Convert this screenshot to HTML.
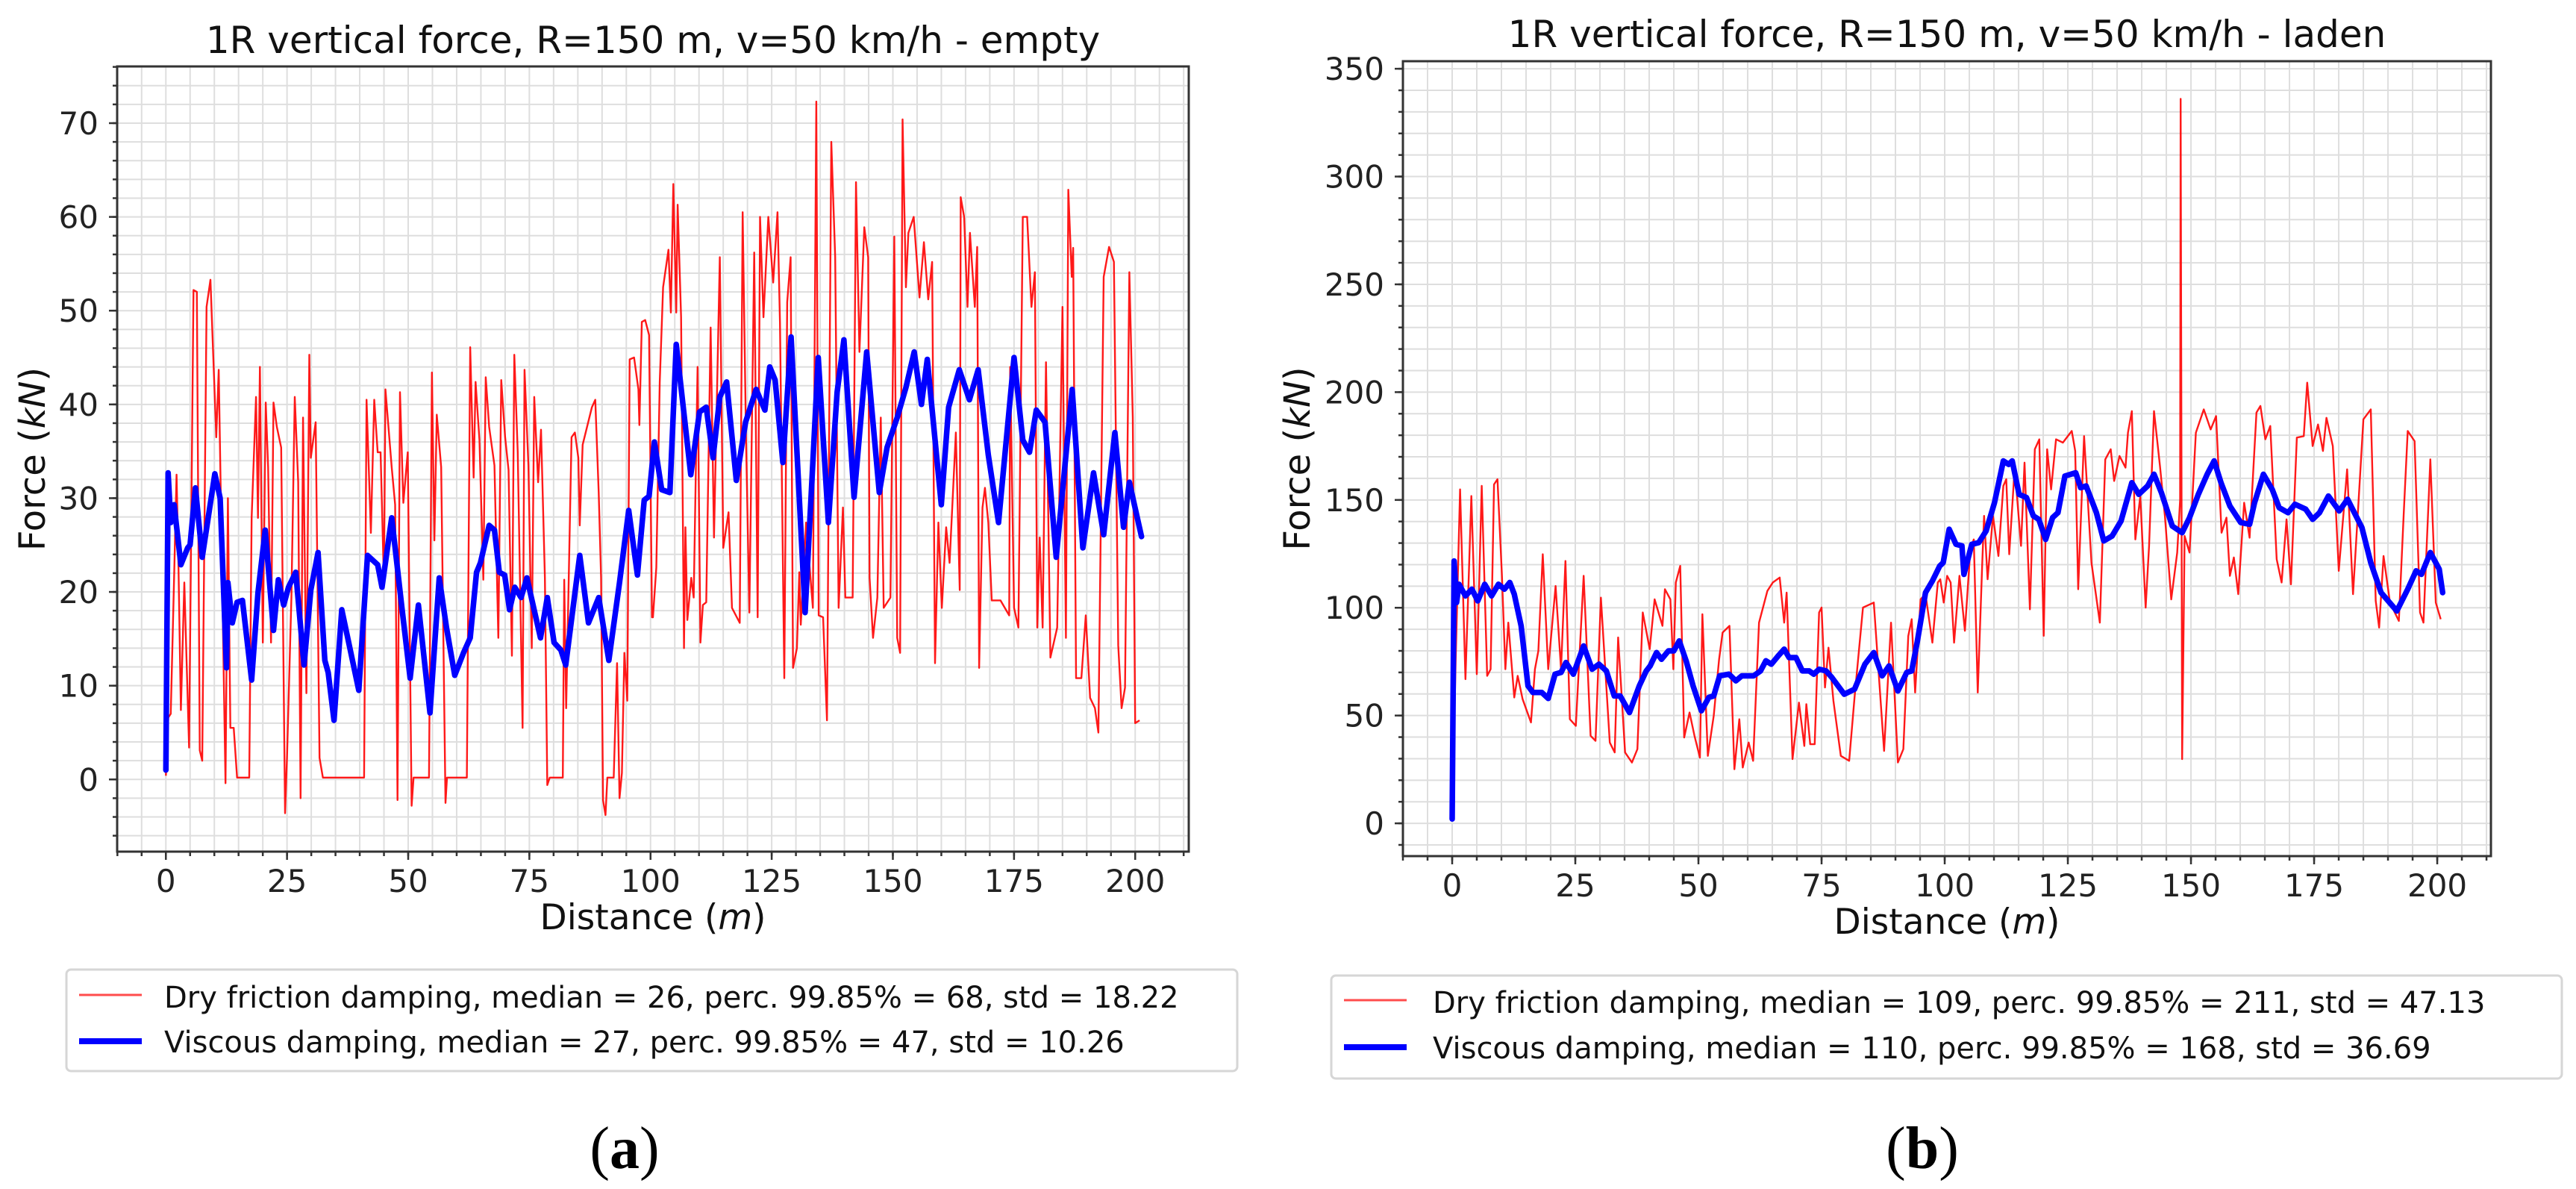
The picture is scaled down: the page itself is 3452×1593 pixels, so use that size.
<!DOCTYPE html>
<html><head><meta charset="utf-8">
<style>
html,body{margin:0;padding:0;background:#fff;}
svg{display:block;font-family:"DejaVu Sans","Liberation Sans",sans-serif;}
</style></head>
<body>
<svg id="fig" width="3452" height="1593" viewBox="0 0 3452 1593" xmlns="http://www.w3.org/2000/svg">
<rect width="3452" height="1593" fill="#fff"/>
</svg>
<script>
// ---- Panel (a) data: empty ----
const aRedX = [0,0.5,1,1.7,2.2,2.6,3.1,3.8,4.8,5.7,6.4,7,7.5,8.4,9.2,10.4,10.9,12.3,12.8,13.3,14,14.7,17.2,17.7,18.6,19,19.4,20,20.6,21.1,21.7,22.2,22.9,23.8,24.6,25,25.9,26.6,27.3,27.8,28.3,29,29.6,29.9,30.9,31.7,32.4,40.9,41.4,42.3,43,43.7,44.3,45,45.3,46.6,47.3,47.8,48.3,49,49.9,50.7,51.1,54.3,54.9,55.4,55.9,56.8,57.7,58,62.1,62.8,63.5,63.9,64.7,65.5,66,66.7,67.8,68.6,69.2,70,70.7,71.4,71.9,72.6,73.6,74,74.8,75.5,76,76.8,77.4,78.2,78.7,79.2,81.9,82.2,82.6,83.7,84.4,85.1,85.4,86,87.9,88.6,89.3,89.8,90.2,90.7,91.1,92.4,93.1,93.6,94.1,94.6,95.2,95.7,96.6,97.5,97.7,98.2,98.9,99.7,100.3,
100.5,101.2,101.9,102.6,103.7,104.2,104.7,105.3,105.6,106.3,106.9,107.2,107.6,108.4,108.9,109.7,110.3,110.8,111.5,112.4,113.1,114.3,115,116.1,116.8,118.4,119,119.7,120.4,121.4,122.1,122.6,123.3,124.3,125.3,126.2,126.7,127.6,128.2,128.9,129.4,130.2,130.7,131,132.1,133.5,134.2,134.7,135.6,136.4,137.3,138.1,138.8,139.7,140.2,141.7,142.4,143.1,144.1,144.9,145.2,145.9,146.8,147.5,148.1,149.5,150.3,150.9,151.5,152,152.7,153.2,154.3,155.5,156.4,157.3,158.1,158.7,159.4,160.1,161,161.7,163,163.8,164,164.7,165.4,165.9,166.9,167.4,167.8,168.5,169,169.7,170.4,172.2,174,174.2,175,175.9,176.8,177.7,178.6,179.3,179.8,180.3,180.9,181.6,182.5,183.9,185,185.7,186.2,186.9,187.2,187.8,188.9,189.8,190.7,191.7,192.4,193.5,194.6,195.6,196.5,197.2,197.9,198.8,199.5,200,200.9];
const aRedF = [0.4,6.6,7,21.5,32.5,22.6,7.4,21,3.4,52.2,52,3.1,2,50.4,53.3,36.5,43.7,-0.4,30,5.5,5.5,0.2,0.2,27.9,40.8,27.9,44,14.6,40.2,33.3,14.6,40.2,37.6,35.4,-3.6,2.3,19.4,40.8,31.7,-2,38.6,9.2,45.3,34.3,38.1,2.3,0.2,0.2,40.5,26.3,40.5,34.9,34.9,21,41.6,33.3,29.3,-2.2,41.3,29.5,34.9,-2.8,0.2,0.2,43.4,25.5,38.9,33.3,-2.5,0.2,0.2,46.1,32.2,42.4,36.2,21.3,42.9,37.6,33.5,15.1,42.6,36.5,33,13.2,45.3,34.9,5.5,43.7,33.5,14,40.8,31.7,37.3,21.5,-0.6,0.2,0.2,21.3,7.6,36.5,37,34.3,27.1,35.7,39.7,40.5,30.6,21.5,-2.2,-3.8,0.2,0.2,12.4,-2,0.7,13.5,8.4,44.8,45,41.6,37.8,48.8,49,47.4,17.3,
17.3,22.6,42.4,52.5,56.5,49.8,63.5,49.8,61.3,49.3,14,26.9,17,21.5,19.4,44,14.6,18.6,18.9,48.2,25.8,55.7,24.7,28.5,18.3,16.7,60.5,36.5,17.8,56.2,17.3,60,49.3,60,53,60.5,48.8,10.8,50.9,55.7,11.9,14,22.1,16.5,27.4,18.3,72.3,17.5,17.3,6.3,68,55.7,18.3,29,19.4,19.4,63.7,45.6,58.9,55.7,21.5,15.1,19.4,38.6,18.3,19.4,57.9,15.1,13.5,70.4,52.5,58.3,60,51.4,57.3,51.2,55.2,12.4,27.4,18.3,26.9,23.1,37,20.2,62.1,60,50.4,58.3,50.4,56.8,11.9,29,31.1,27.4,19.1,19.1,17.5,44,18.3,16.2,60,60,50.4,54.1,16.2,25.8,16.2,44.5,13,16.2,50.4,15.1,62.9,53.6,56.7,10.8,10.8,17.5,8.7,7.6,5,53.6,56.8,55.2,14.3,7.6,9.8,54.1,38.6,6,6.3];
const aBlueX = [0,0.46,1,1.7,3.1,4.5,5,6.1,7.5,10.1,11.2,12.5,12.8,13.7,14.7,15.8,17.7,19,20.5,22.2,23.2,24.3,25.3,26.8,28.5,29.9,31.4,32.8,33.5,34.7,36.3,39.8,41.6,43.7,44.6,46.6,48.7,50.4,52.1,54.5,56.4,57.9,59.6,61.4,62.8,64.1,64.9,66.7,67.8,68.8,69.9,70.9,72,73.3,74.5,75.9,77.3,78.7,80.1,81.5,82.5,85.4,87.2,89.3,91.4,93.6,95.5,97.3,98.7,99.7,100.8,102.3,104,105.3,108.3,110.1,111.5,112.9,114.3,115.7,117.7,119.6,121.8,123.6,124.6,125.7,127.3,129,131.9,134.6,136.7,138.5,139.9,142,144.6,147.2,148.8,150.9,152.7,154.4,155.9,157.1,160,161.5,163.7,165.8,167.6,169.7,171.8,175,176.8,178.2,179.6,181.4,183.7,187,189.2,191.4,193.5,195.8,197.6,198.8,201.3];
const aBlueF = [1,32.7,27.4,29.3,22.9,24.7,25,31.1,23.7,32.6,30,11.9,21,16.7,18.9,19.1,10.6,19.9,26.6,15.9,21.3,18.6,20.5,22.1,12.2,20.2,24.2,12.7,11.4,6.3,18.1,9.5,23.9,22.9,20.5,27.9,18.3,10.8,18.6,7.1,21.5,16.2,11.1,13.5,15.1,22.1,23.1,27.1,26.6,22.1,21.8,18.1,20.5,19.4,21.5,18.3,15.1,19.4,14.6,13.8,12.2,23.9,16.7,19.4,12.7,21,28.7,21.8,29.8,30.2,36,30.9,30.6,46.4,32.5,39.2,39.7,34.3,40.8,42.4,31.9,38.1,41.6,39.4,44,42.6,33.8,47.2,17.8,45,27.4,41.3,46.9,30.1,45.6,30.6,35.4,38.6,41.8,45.6,40,44.8,29.3,39.7,43.7,40.5,43.7,34.6,27.4,45,36.2,34.9,39.4,38.1,23.7,41.6,24.7,32.7,26.1,37,26.9,31.7,25.9];
const aXTicks = [0,25,50,75,100,125,150,175,200];
const aYTicks = [0,10,20,30,40,50,60,70];

// ---- Panel (b) data: laden ----
const bRedX = [0,0.7,1.6,2.7,3.9,5,6,7.1,7.8,8.5,9.2,10.1,10.8,11.4,12.6,13.3,14.3,16,16.8,17.5,18.4,19.5,21,22.1,23,23.9,25.1,26.7,28.1,29.1,30.2,32,33,33.7,35.1,36.5,37.6,38.7,40.1,41.1,42.7,43.2,44.3,44.9,45.4,46.3,47.1,48.2,49.2,50.3,50.8,51.9,53.1,54.2,54.9,56.3,57.3,58.3,59,60.2,61.1,62.3,64,65.1,66.5,67.4,67.9,69.1,70.4,71.5,71.9,72.7,73.6,74.5,75,75.7,76.4,77.4,78.9,80.6,81.7,83.4,85.6,87.7,89.1,90.5,91.6,92.6,93.3,94,95.1,96.1,97.5,98.6,99.1,99.8,100.5,101.2,101.9,103,104.1,105.2,105.9,106.7,107.6,108,108.7,109.8,110.9,111.9,112.5,113.1,114.2,115.5,116.2,117.3,118.3,119.2,120.1,120.8,121.6,122.6,124,125.8,126.5,127.1,128.3,129.8,131.5,132.6,133.7,134.4,135.5,136.7,137.2,138,138.7,139.7,140.8,141.5,142.5,143.7,144.7,146,147.2,147.8,147.9,148.2,148.7,149.7,151,152.6,154,155.1,156.2,157.2,157.9,158.7,159.6,160.8,161.9,163.3,164.1,165.1,166.1,167.4,168.4,169.4,170.3,171.5,172.9,173.6,174.7,175.8,176.8,177.5,178.8,180,181.7,182.9,184,185,186.5,187.5,188.2,189.1,190.4,192.2,193.2,194,195.4,196.5,197.2,198.6,199.7,200.7];
const bRedF = [2,74.6,154.9,66.9,151.8,69.2,156.5,68.4,71.5,157.2,159.6,114.8,71.5,93.1,58.4,68.4,57.6,46.8,71.5,80,124.8,71.5,110.1,71.5,121.7,48.3,45.2,114.8,40.6,38.3,104.7,37.5,32.9,86.2,32.9,28.2,34.4,97.8,80.8,103.9,91.6,108.6,103.9,71.5,111.7,119.4,39.8,51.4,40.6,30.5,97,31.3,49.9,76.1,88.5,91.6,25.1,48.3,25.9,37.5,29,93.1,107.8,111.7,114,93.1,107,29.8,56,35.9,55.3,36.7,36.7,97.8,100.1,63,81.5,56.8,31.3,29,58.4,100.1,102.4,33.6,93.1,28.2,34.4,86.9,94.7,60.7,103.9,106.3,83.8,111.7,113.2,102.4,114.8,111.7,83.8,114.8,89.3,127.1,131.7,60.7,119.4,142.6,113.2,142.6,124,156.5,159.6,124.8,165,128.7,167.3,99.3,173.5,178.1,87,173.5,154.9,178.1,176.6,182,172.7,108.6,179.6,120.9,93.1,168.8,173.5,158.8,170.4,165,181.2,191.2,131.7,151.8,100.1,128.7,191.2,165.7,142.6,103.9,125.6,150,336,29.8,133.3,125.6,181.2,192,182.7,188.9,134.8,141.8,114.8,123.3,106.3,148.7,132.5,190.5,193.6,178.1,184.3,122.5,111.7,141,110.9,178.9,179.6,204.4,175,185,172.7,188.1,175,117.1,164.2,106.3,148.7,187.4,192,103.2,90.8,124,102.4,93.9,144.1,182,177.3,97.8,93.1,168.8,102.4,94.7];
const bBlueX = [0,0.4,0.9,1.4,2.7,4,5.2,6.6,8,9.4,10.6,11.7,12.6,14,15.4,16.4,18.2,19.5,20.9,22.1,23.1,24.6,26.7,28.4,29.8,31.3,32.9,34.1,36,38,39.4,40.2,41.5,42.5,43.9,45,46.1,47.5,48.9,50.6,52.1,53.1,54.3,56.2,57.6,58.8,61.2,62.6,63.7,64.8,66.2,67.4,68.4,69.8,71.1,72.5,73.4,74.5,75.9,77.1,79.6,81.7,83.8,85.6,87.3,88.7,90.5,92.3,93.3,94.4,96.1,97.5,99,99.7,100.9,102.3,103.5,103.9,105.5,106.9,108.4,110.1,111.9,113,113.7,115.1,116.6,118,119.1,120.5,121.9,123,124.4,126.6,127.6,128.7,130.8,132.3,134,135.8,138,139.4,141.2,142.5,144,146.2,148.2,149.7,151.5,153.3,154.7,156.1,157.9,160.1,161.9,162.9,164.7,166.5,167.9,169.7,171.1,173.3,174.7,176.1,177.9,180.1,181.8,184.7,186.5,188.6,191.8,194,195.7,196.8,198.6,200.4,201.1];
const bBlueF = [2,121.7,102.4,110.9,105.5,108.6,103.2,110.9,105.5,110.9,108.6,111.7,106.3,91.6,63.8,60.7,60.7,57.9,69.2,70,74.6,69.2,82.3,71.5,73.8,70.7,59.1,59.1,51.4,63.8,70.7,73,79.2,76.1,80,80,84.6,75.4,63.8,52.2,58.4,59.1,68.4,69.2,66.1,68.4,68.4,70.7,75.4,73.8,77.7,80.8,76.9,76.9,70.7,70.7,69.2,71.5,70.7,67.6,59.9,62.2,73.8,79.2,68.4,73,61.4,70,70.7,83.9,107,112.4,119.4,120.9,136.4,129.4,128.7,115.5,129.4,130.2,135.6,148.7,168.1,166.5,168.1,152.6,151.1,142.6,141,131.7,141.8,144.1,161.1,162.6,155.7,156.5,144.1,131,133.3,140.2,158,152.6,156.5,161.9,153.4,137.9,134.8,141.8,152.6,161.9,168.1,158,147.2,139.5,138.7,148.7,161.9,154.9,146.4,144.1,148,145.7,141,144.1,151.8,144.9,150.3,137.2,120.9,107,98.5,108.6,117.1,115.5,125.6,117.9,107];
const bXTicks = [0,25,50,75,100,125,150,175,200];
const bYTicks = [0,50,100,150,200,250,300,350];

const NS = "http://www.w3.org/2000/svg";
const svg = document.getElementById('fig');
function mk(tag, attrs, parent) {
  const e = document.createElementNS(NS, tag);
  for (const k in attrs) e.setAttribute(k, attrs[k]);
  (parent || svg).appendChild(e);
  return e;
}

function panel(cfg) {
  const g = mk('g', {});
  
  
  const {L, R, T, B, x0, x1, y0, y1} = cfg;
  const sx = v => L + (v - x0) / (x1 - x0) * (R - L);
  const sy = v => B - (v - y0) / (y1 - y0) * (B - T);
  const grid = mk('g', {stroke: '#dedede', 'stroke-width': 2}, g);
  
  
  for (let v = Math.ceil(x0 / cfg.xMinor) * cfg.xMinor; v <= x1; v += cfg.xMinor)
    mk('line', {x1: sx(v), x2: sx(v), y1: T, y2: B}, grid);
  for (let v = Math.ceil(y0 / cfg.yMinor) * cfg.yMinor; v <= y1; v += cfg.yMinor)
    mk('line', {x1: L, x2: R, y1: sy(v), y2: sy(v)}, grid);
  const cp = mk('clipPath', {id: cfg.id + '-clip'}, g);
  mk('rect', {x: L, y: T, width: R - L, height: B - T}, cp);
  const pts = (xs, ys) => xs.map((x, i) => sx(x).toFixed(1) + ',' + sy(ys[i]).toFixed(1)).join(' ');
  const red = mk('polyline', {points: pts(cfg.redX, cfg.redF), fill: 'none', stroke: '#ff0000', 'stroke-width': 2.4, 'stroke-opacity': 0.9, 'stroke-linejoin': 'round', 'clip-path': 'url(#' + cfg.id + '-clip)'}, g);
  
  
  const blue = mk('polyline', {points: pts(cfg.blueX, cfg.blueF), fill: 'none', stroke: '#0000ff', 'stroke-width': 7.5, 'stroke-linejoin': 'round', 'stroke-linecap': 'round', 'clip-path': 'url(#' + cfg.id + '-clip)'}, g);
  
  
  const fr = mk('rect', {x: L, y: T, width: R - L, height: B - T, fill: 'none', stroke: '#333', 'stroke-width': 3}, g);
  
  
  const tk = mk('g', {stroke: '#333', 'stroke-width': 2.5}, g);
  for (let v = Math.ceil(x0 / cfg.xMinor) * cfg.xMinor; v <= x1; v += cfg.xMinor)
    mk('line', {x1: sx(v), x2: sx(v), y1: B, y2: B + 6}, tk);
  for (let v = Math.ceil(y0 / cfg.yMinor) * cfg.yMinor; v <= y1; v += cfg.yMinor)
    mk('line', {x1: L, x2: L - 6, y1: sy(v), y2: sy(v)}, tk);
  cfg.xTicks.forEach(v => {
    mk('line', {x1: sx(v), x2: sx(v), y1: B, y2: B + 11}, tk);
    const t = mk('text', {x: sx(v), y: B + 54, 'text-anchor': 'middle', 'font-size': 42, fill: '#222'}, g);
    t.textContent = v;
    
    
  });
  cfg.yTicks.forEach(v => {
    mk('line', {x1: L, x2: L - 11, y1: sy(v), y2: sy(v)}, tk);
    const t = mk('text', {x: L - 25, y: sy(v) + 15, 'text-anchor': 'end', 'font-size': 42, fill: '#222'}, g);
    t.textContent = v;
    
    
  });
  const ti = mk('text', {x: (L + R) / 2, y: cfg.titleY, 'text-anchor': 'middle', 'font-size': 50, fill: '#111'}, g);
  ti.textContent = cfg.title;
  
  
  const xt = mk('text', {x: (L + R) / 2, y: B + 104, 'text-anchor': 'middle', 'font-size': 47, fill: '#111'}, g);
  xt.innerHTML = 'Distance  (<tspan font-style="italic">m</tspan>)';
  
  
  const yt = mk('text', {x: cfg.yTitleX, y: (T + B) / 2, 'text-anchor': 'middle', 'font-size': 48, fill: '#111', transform: 'rotate(-90 ' + cfg.yTitleX + ' ' + (T + B) / 2 + ')'}, g);
  yt.innerHTML = 'Force (<tspan font-style="italic">kN</tspan>)';
  
  
  const lg = mk('g', {}, g);
  
  
  const Lg = cfg.leg;
  mk('rect', {x: Lg.x, y: Lg.y, width: Lg.w, height: Lg.h, rx: 6, fill: '#fff', stroke: '#d6d6d6', 'stroke-width': 3}, lg);
  const e1 = mk('line', {x1: Lg.hx, x2: Lg.hx + 84, y1: Lg.r1 - 17, y2: Lg.r1 - 17, stroke: '#ff0000', 'stroke-opacity': 0.7, 'stroke-width': 3}, lg);
  
  
  const e2 = mk('line', {x1: Lg.hx, x2: Lg.hx + 84, y1: Lg.r2 - 15, y2: Lg.r2 - 15, stroke: '#0000ff', 'stroke-width': 8}, lg);
  
  
  const t1 = mk('text', {x: Lg.tx, y: Lg.r1, 'font-size': 40, fill: '#111'}, lg);
  t1.textContent = cfg.leg1;
  
  
  const t2 = mk('text', {x: Lg.tx, y: Lg.r2, 'font-size': 40, fill: '#111'}, lg);
  t2.textContent = cfg.leg2;
  
  
  const pl = mk('text', {x: cfg.labX, y: 1565, 'text-anchor': 'middle', 'font-size': 80, 'font-family': '"Liberation Serif", serif', fill: '#000'}, g);
  pl.innerHTML = '(<tspan font-weight="bold">' + cfg.lab + '</tspan>)';
  
  
}

panel({id: 'empty', L: 157, R: 1593, T: 89, B: 1141, x0: -10.05, x1: 211.05, y0: -7.7, y1: 76.05,
  xMinor: 5, yMinor: 2, xTicks: aXTicks, yTicks: aYTicks,
  redX: aRedX, redF: aRedF, blueX: aBlueX, blueF: aBlueF,
  title: '1R vertical force, R=150 m, v=50 km/h - empty', titleY: 71, yTitleX: 60,
  leg: {x: 89, y: 1299, w: 1569, h: 136, hx: 106, tx: 220, r1: 1350, r2: 1410},
  leg1: 'Dry friction damping, median = 26, perc. 99.85% = 68, std = 18.22',
  leg2: 'Viscous damping, median = 27, perc. 99.85% = 47, std = 10.26',
  labX: 837, lab: 'a'});

panel({id: 'laden', L: 1880, R: 3338, T: 82, B: 1147, x0: -10, x1: 210.9, y0: -15.2, y1: 353.5,
  xMinor: 5, yMinor: 10, xTicks: bXTicks, yTicks: bYTicks,
  redX: bRedX, redF: bRedF, blueX: bBlueX, blueF: bBlueF,
  title: '1R vertical force, R=150 m, v=50 km/h - laden', titleY: 63, yTitleX: 1755,
  leg: {x: 1784, y: 1307, w: 1649, h: 138, hx: 1801, tx: 1920, r1: 1357, r2: 1418},
  leg1: 'Dry friction damping, median = 109, perc. 99.85% = 211, std = 47.13',
  leg2: 'Viscous damping, median = 110, perc. 99.85% = 168, std = 36.69',
  labX: 2576, lab: 'b'});
</script>
</body></html>
